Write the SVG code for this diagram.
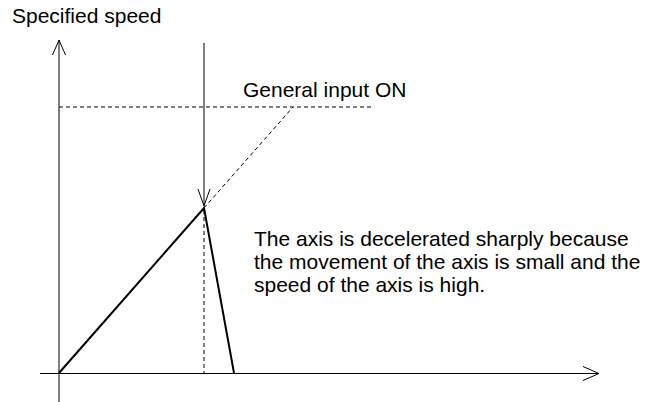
<svg xmlns="http://www.w3.org/2000/svg" width="649" height="402" viewBox="0 0 649 402">
<style>
.ax{stroke:#000;stroke-width:1;fill:none}
.dash{stroke:#000;stroke-width:1;fill:none;stroke-dasharray:4 3}
.prof{stroke:#000;stroke-width:2;fill:none;stroke-linejoin:miter}
text{font-family:"Liberation Sans",Arial,sans-serif;font-size:21px;fill:#000}
</style>
<rect width="649" height="402" fill="#fff"/>
<g id="connectors">
<path class="ax" d="M59,402V40M52.5,55L59,40L65.5,55"/>
<path class="ax" d="M40,373.5H599M583,366.5L599,373.5L583,380.5"/>
<path class="ax" d="M204,43V206M198,189L204,206L210,189"/>
<path class="dash" d="M59,107H373"/>
<path class="dash" d="M204,208L293,107"/>
<path class="dash" d="M204,210V373"/>
<path class="prof" d="M59,373L204,208L234,373"/>
</g>
<g id="label-y"><text x="12" y="23">Specified speed</text></g>
<g id="label-input"><text x="243" y="97">General input ON</text></g>
<g id="label-note">
<text x="254" y="246">The axis is decelerated sharply because</text>
<text x="254" y="269">the movement of the axis is small and the</text>
<text x="254" y="292">speed of the axis is high.</text>
</g>
</svg>
